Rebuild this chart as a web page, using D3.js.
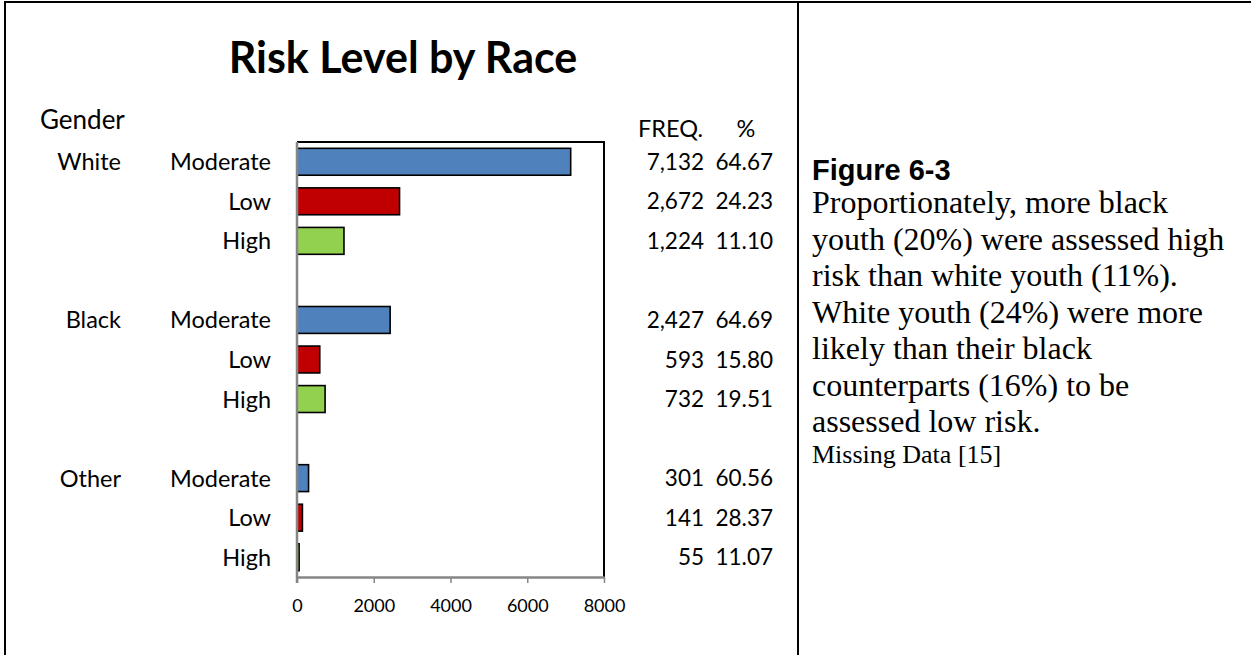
<!DOCTYPE html>
<html>
<head>
<meta charset="utf-8">
<script src="https://cdn.jsdelivr.net/npm/d3@7"></script>
<style>
  html, body { margin: 0; padding: 0; background: #fff; }
  svg { display: block; }
</style>
</head>
<body>
<svg id="chart" width="1251" height="655"></svg>
<script>
// Risk level counts and shares by race
const races = ["White", "Black", "Other"];
const levels = ["Moderate", "Low", "High"];
const whiteFreq = [7132, 2672, 1224];
const blackFreq = [2427, 593, 732];
const otherFreq = [301, 141, 55];
const whitePct = [64.67, 24.23, 11.10];
const blackPct = [64.69, 15.80, 19.51];
const otherPct = [60.56, 28.37, 11.07];
const xTicks = [0, 2000, 4000, 6000, 8000];
const levelColors = ["#4F81BD", "#C00000", "#92D050"];

const freqByRace = [whiteFreq, blackFreq, otherFreq];
const pctByRace = [whitePct, blackPct, otherPct];

// One row per race/level pair, with an empty slot between race groups
const rows = [];
const slots = [];
races.forEach((race, ri) => {
  levels.forEach((level, li) => {
    const key = race + "|" + level;
    rows.push({ key, race, level, li, first: li === 0,
                freq: freqByRace[ri][li], pct: pctByRace[ri][li] });
    slots.push(key);
  });
  if (ri < races.length - 1) slots.push("gap" + ri);
});

const svg = d3.select("#chart");
const chartFont = "Lato, 'Open Sans', sans-serif";

// Page frame
const frame = svg.append("g").attr("stroke", "#000").attr("stroke-width", 2);
frame.append("line").attr("x1", 4).attr("x2", 1251).attr("y1", 2).attr("y2", 2);
frame.append("line").attr("x1", 5).attr("x2", 5).attr("y1", 1).attr("y2", 655);
frame.append("line").attr("x1", 798).attr("x2", 798).attr("y1", 1).attr("y2", 655);

const plot = { left: 297, right: 604, top: 142, bottom: 577 };

const x = d3.scaleLinear().domain([0, 8000]).range([plot.left, plot.right]);
const y = d3.scaleBand().domain(slots).range([plot.top, plot.bottom])
  .paddingInner(0.32).paddingOuter(0.16);

// Title
svg.append("text")
  .attr("x", 403).attr("y", 73)
  .attr("text-anchor", "middle")
  .attr("font-family", chartFont).attr("font-weight", 700)
  .attr("font-size", 43)
  .attr("fill", "#000")
  .text("Risk Level by Race");

// Plot area border (top and right)
svg.append("path")
  .attr("d", `M${plot.left},${plot.top}H${plot.right}V${plot.bottom}`)
  .attr("fill", "none").attr("stroke", "#000").attr("stroke-width", 2);

// Bars
svg.append("g").selectAll("rect")
  .data(rows)
  .join("rect")
  .attr("x", x(0))
  .attr("y", d => y(d.key))
  .attr("width", d => x(d.freq) - x(0))
  .attr("height", y.bandwidth())
  .attr("fill", d => levelColors[d.li])
  .attr("stroke", "#000")
  .attr("stroke-width", 1.6);

// Value axis
const xAxis = svg.append("g")
  .attr("transform", `translate(0,${plot.bottom})`)
  .call(d3.axisBottom(x).tickValues(xTicks).tickFormat(d3.format("d"))
    .tickSize(6).tickPadding(16).tickSizeOuter(0));
xAxis.select(".domain").attr("stroke", "#868686").attr("stroke-width", 2.5);
xAxis.selectAll(".tick line").attr("stroke", "#868686").attr("stroke-width", 1.5);
xAxis.selectAll(".tick text")
  .attr("font-family", chartFont).attr("font-size", 18).attr("fill", "#000");

// Category axis line
svg.append("line")
  .attr("x1", plot.left).attr("x2", plot.left)
  .attr("y1", plot.top).attr("y2", plot.bottom + 6)
  .attr("stroke", "#868686").attr("stroke-width", 2.5);

// Header labels
const labelSize = 23.5;
const numSize = 22.5;
svg.append("text")
  .attr("x", 40).attr("y", 129)
  .attr("font-family", chartFont).attr("font-size", 26)
  .text("Gender");
svg.append("text")
  .attr("x", 638).attr("y", 137)
  .attr("font-family", chartFont).attr("font-size", labelSize)
  .text("FREQ.");
svg.append("text")
  .attr("x", 746).attr("y", 137).attr("text-anchor", "middle")
  .attr("font-family", chartFont).attr("font-size", labelSize)
  .text("%");

const mid = d => y(d.key) + y.bandwidth() / 2;

// Race labels on the first row of each group
svg.append("g").selectAll("text")
  .data(rows.filter(d => d.first))
  .join("text")
  .attr("x", 121).attr("y", mid).attr("dy", "0.36em")
  .attr("text-anchor", "end")
  .attr("font-family", chartFont).attr("font-size", labelSize)
  .text(d => d.race);

// Risk level labels
svg.append("g").selectAll("text")
  .data(rows)
  .join("text")
  .attr("x", 271).attr("y", mid).attr("dy", "0.36em")
  .attr("text-anchor", "end")
  .attr("font-family", chartFont).attr("font-size", labelSize)
  .text(d => d.level);

// Frequency and percentage columns
const fmtFreq = d3.format(",");
const fmtPct = d3.format(".2f");
svg.append("g").selectAll("text")
  .data(rows)
  .join("text")
  .attr("x", 704).attr("y", mid).attr("dy", "0.36em")
  .attr("text-anchor", "end")
  .attr("font-family", chartFont).attr("font-size", numSize)
  .text(d => fmtFreq(d.freq));
svg.append("g").selectAll("text")
  .data(rows)
  .join("text")
  .attr("x", 773).attr("y", mid).attr("dy", "0.36em")
  .attr("text-anchor", "end")
  .attr("font-family", chartFont).attr("font-size", numSize)
  .text(d => fmtPct(d.pct));

// Caption
const cap = svg.append("g").attr("transform", "translate(812,0)");
cap.append("text")
  .attr("x", 0).attr("y", 180)
  .attr("font-family", "'Liberation Sans', Arial, sans-serif")
  .attr("font-weight", 700).attr("font-size", 29)
  .text("Figure 6-3");
const captionLines = [
  "Proportionately, more black",
  "youth (20%) were assessed high",
  "risk than white youth (11%).",
  "White youth (24%) were more",
  "likely than their black",
  "counterparts (16%) to be",
  "assessed low risk."
];
cap.append("g").selectAll("text")
  .data(captionLines)
  .join("text")
  .attr("x", 0).attr("y", (d, i) => 213 + i * 36.5)
  .attr("font-family", "'Liberation Serif', 'Times New Roman', serif")
  .attr("font-size", 32)
  .text(d => d);
cap.append("text")
  .attr("x", 0).attr("y", 463)
  .attr("font-family", "'Liberation Serif', 'Times New Roman', serif")
  .attr("font-size", 26)
  .text("Missing Data [15]");
</script>
</body>
</html>
